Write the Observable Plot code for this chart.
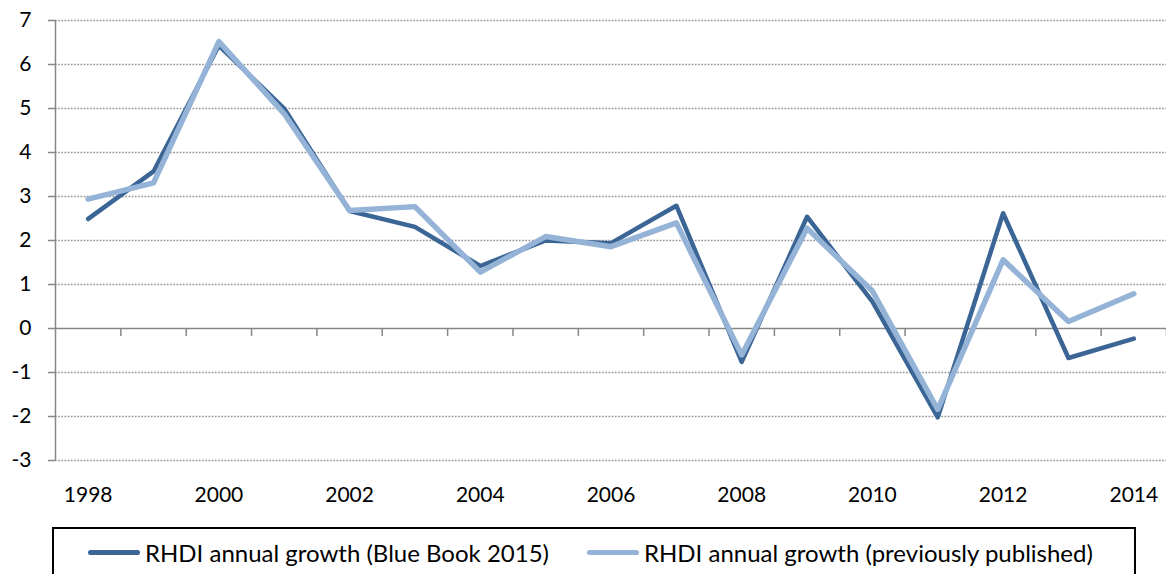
<!DOCTYPE html>
<html>
<head>
<meta charset="utf-8">
<script src="https://cdn.jsdelivr.net/npm/d3@7"></script>
<script src="https://cdn.jsdelivr.net/npm/@observablehq/plot@0.6"></script>
<style>
  html, body { margin: 0; padding: 0; background: #fff; overflow: hidden; }
  body { width: 1166px; height: 574px; position: relative; font-family: Lato, "Open Sans", sans-serif; }
  #legend {
    position: absolute; left: 52px; top: 527px; width: 1084px; height: 70px;
    border: 2px solid #000; box-sizing: border-box;
  }
  .item { position: absolute; top: 9px; display: flex; align-items: center; font-size: 24px; color: #000; white-space: nowrap; }
  .swatch { width: 52px; height: 5px; border-radius: 3px; margin-right: 5px; }
</style>
</head>
<body>
<div id="chart"></div>
<div id="legend"></div>
<script>
// Real household disposable income (RHDI), annual growth, %
const years = [1998, 1999, 2000, 2001, 2002, 2003, 2004, 2005, 2006, 2007, 2008, 2009, 2010, 2011, 2012, 2013, 2014];
const blueBook2015 = [2.49, 3.57, 6.43, 5.0, 2.67, 2.31, 1.42, 2.0, 1.94, 2.79, -0.76, 2.54, 0.61, -2.02, 2.62, -0.67, -0.23];
const previouslyPublished = [2.94, 3.31, 6.52, 4.88, 2.68, 2.77, 1.28, 2.09, 1.86, 2.4, -0.6, 2.28, 0.85, -1.84, 1.56, 0.16, 0.79];
const seriesNames = ["RHDI annual growth (Blue Book 2015)", "RHDI annual growth (previously published)"];
const seriesColors = ["#3a6595", "#95b3d7"];
const yTicks = [-3, -2, -1, 0, 1, 2, 3, 4, 5, 6, 7];
const xTickLabels = [1998, 2000, 2002, 2004, 2006, 2008, 2010, 2012, 2014];

const rows = [
  ...years.map((year, i) => ({year, value: blueBook2015[i], series: seriesNames[0]})),
  ...years.map((year, i) => ({year, value: previouslyPublished[i], series: seriesNames[1]}))
];

// category boundaries, where the small tick marks hang from the zero line
const boundaries = d3.range(years.length + 1).map(i => years[0] - 0.5 + i);
const axisGray = "#868686";

const chart = Plot.plot({
  width: 1166,
  height: 515,
  marginLeft: 55,
  marginRight: 0,
  marginTop: 20,
  marginBottom: 55,
  style: {fontFamily: "Lato, 'Open Sans', sans-serif", fontSize: "21px", color: "#000", background: "#fff", overflow: "visible"},
  x: {domain: [years[0] - 0.5, years[years.length - 1] + 0.5], axis: null},
  y: {domain: [-3, 7], axis: null},
  marks: [
    Plot.ruleY(yTicks.filter(d => d !== 0), {stroke: "#8c8c8c", strokeWidth: 1.3, strokeDasharray: "1.6,1.6"}),
    Plot.ruleX([boundaries[0]], {stroke: axisGray, strokeWidth: 1.5}),
    Plot.ruleY([0], {stroke: axisGray, strokeWidth: 1.5}),
    Plot.ruleX(boundaries.slice(1), {y1: 0, y2: -0.18, stroke: axisGray, strokeWidth: 1.5}),
    Plot.axisY({ticks: yTicks, tickSize: 7, tickPadding: 17, label: null, tickFormat: d => String(d), stroke: axisGray, fill: "#000", strokeWidth: 1.5}),
    Plot.axisX({ticks: xTickLabels, tickSize: 0, tickPadding: 27, label: null, tickFormat: d => String(d), fill: "#000"}),
    Plot.line(rows.filter(d => d.series === seriesNames[0]), {x: "year", y: "value", stroke: seriesColors[0], strokeWidth: 4.5, strokeLinejoin: "round", strokeLinecap: "round"}),
    Plot.line(rows.filter(d => d.series === seriesNames[1]), {x: "year", y: "value", stroke: seriesColors[1], strokeWidth: 5.5, strokeLinejoin: "round", strokeLinecap: "round"})
  ]
});
document.getElementById("chart").append(chart);

// legend below the chart
const legend = document.getElementById("legend");
const itemLeft = [34, 533];
seriesNames.forEach((name, i) => {
  const item = document.createElement("div");
  item.className = "item";
  item.style.left = itemLeft[i] + "px";
  const sw = document.createElement("span");
  sw.className = "swatch";
  sw.style.background = seriesColors[i];
  const label = document.createElement("span");
  label.textContent = name;
  item.append(sw, label);
  legend.append(item);
});
</script>
</body>
</html>
